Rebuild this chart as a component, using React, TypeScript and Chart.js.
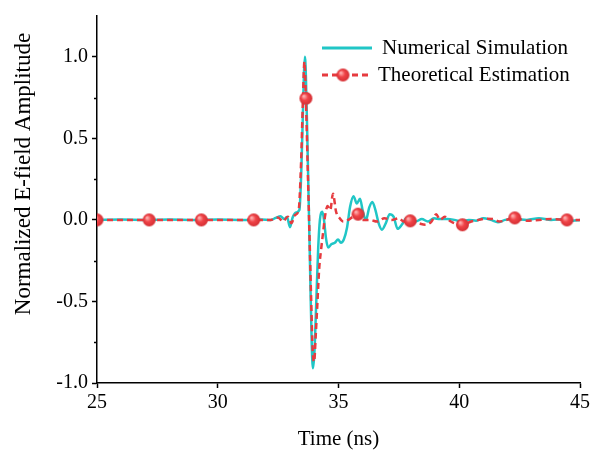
import React, { useEffect, useRef } from 'react';
import { Chart, registerables } from 'chart.js';

Chart.register(...registerables);

// Numerical Simulation (cyan solid)
const simTime = [
  25.0, 26.0, 27.0, 28.0, 29.0, 30.0, 31.0, 31.8, 32.2, 32.4, 32.6, 32.75, 32.87, 32.99,
  33.1, 33.25, 33.38, 33.46, 33.52, 33.57, 33.61, 33.65, 33.71, 33.77, 33.83, 33.89, 33.94,
  34.0, 34.08, 34.16, 34.23, 34.33, 34.4, 34.48, 34.57, 34.7, 34.85, 34.98, 35.1, 35.22,
  35.35, 35.48, 35.62, 35.76, 35.89, 36.01, 36.14, 36.27, 36.4, 36.53, 36.66, 36.8, 36.96,
  37.12, 37.28, 37.45, 37.62, 37.8, 38.0, 38.2, 38.45, 38.7, 38.95, 39.2, 39.5, 39.8, 40.1,
  40.4, 40.7, 41.0, 41.3, 41.6, 41.9, 42.3, 42.8, 43.3, 43.8, 44.3, 44.7, 45.0,
];
const simAmp = [
  0, 0.002, 0, 0.002, 0, 0.002, 0, 0.003, 0, 0.012, 0.022, 0.005, 0.018, -0.045,
  0.015, 0.045, 0.06, 0.3, 0.62, 0.9, 1.0, 0.88, 0.5, 0.08, -0.35, -0.75, -0.91,
  -0.82, -0.5, -0.17, 0.0, 0.05, 0.0, -0.11, -0.17, -0.15, -0.14, -0.12, -0.14, -0.12,
  -0.05, 0.08, 0.145, 0.1, 0.13, 0.05, 0.0, 0.075, 0.11, 0.06, -0.02, -0.06, -0.02,
  0.035, 0.02, -0.055, -0.03, 0.01, 0.015, -0.01, 0.005, -0.01, 0.01, 0.005, 0.005, 0.0, -0.01,
  0.0, -0.005, 0.01, 0.0, -0.015, 0.0, 0.005, 0.0, 0.01, 0.0, 0.005, -0.005, 0.0,
];

// Theoretical Estimation (red dashed with markers)
const estTime = [
  25.0, 26.0, 27.16, 28.2, 29.32, 30.4, 31.49, 32.2, 32.5, 32.7, 32.9, 33.05, 33.2, 33.35,
  33.45, 33.52, 33.59, 33.65, 33.72, 33.8, 33.87, 33.93, 33.99, 34.06, 34.13, 34.2, 34.28,
  34.36, 34.45, 34.55, 34.66, 34.77, 34.9, 35.05, 35.2, 35.4, 35.6, 35.81, 36.0, 36.3, 36.6,
  36.9, 37.2, 37.5, 37.7, 37.97, 38.3, 38.6, 38.85, 39.05, 39.2, 39.4, 39.65, 40.13, 40.5,
  40.8, 41.1, 41.4, 41.65, 42.3, 42.8, 43.3, 43.8, 44.46, 45.0,
];
const estAmp = [
  0, 0, 0, 0, 0, 0, 0, 0, 0.015, -0.01, 0.02, -0.02, 0.03, 0.06,
  0.35, 0.7, 0.97, 0.745, 0.35, -0.1, -0.5, -0.8, -0.87, -0.7, -0.5, -0.3, -0.18,
  -0.08, 0.03, 0.085, 0.06, 0.16, 0.05, 0.01, -0.01, 0.0, 0.02, 0.035, 0.0, 0.0, -0.01,
  0.01, 0.0, 0.01, -0.01, -0.006, -0.02, -0.03, -0.01, 0.035, 0.0, 0.02, -0.01, -0.03, -0.01,
  0.0, 0.007, 0.005, -0.01, 0.012, -0.005, 0.0, 0.005, 0.0, 0.0,
];
const markerTime = [25.0, 27.16, 29.32, 31.49, 33.65, 35.81, 37.97, 40.13, 42.3, 44.46];

const yMajorTicks = [-1.0, -0.5, 0.0, 0.5, 1.0];
const yMinorTicks = [-0.75, -0.25, 0.25, 0.75];

const seriesNames = ['Numerical Simulation', 'Theoretical Estimation'];
const xTitle = 'Time (ns)';
const yTitle = 'Normalized E-field Amplitude';

const CYAN = '#20C6C6';
const RED = '#E63B3F';
const FONT = "'Liberation Serif', 'Times New Roman', serif";

function makeBall(r: number): HTMLCanvasElement {
  const c = document.createElement('canvas');
  const s = r * 2 + 2;
  c.width = s;
  c.height = s;
  const g = c.getContext('2d')!;
  const cx = s / 2;
  const grad = g.createRadialGradient(cx - r * 0.35, cx - r * 0.35, r * 0.1, cx, cx, r);
  grad.addColorStop(0, '#FFB0B0');
  grad.addColorStop(0.45, '#F04448');
  grad.addColorStop(1, '#D42E33');
  g.fillStyle = grad;
  g.beginPath();
  g.arc(cx, cx, r, 0, Math.PI * 2);
  g.fill();
  return c;
}

export default function App() {
  const ref = useRef<HTMLCanvasElement | null>(null);

  useEffect(() => {
    if (!ref.current) return;
    const ball = makeBall(6.5);
    const markerSet = new Set(markerTime.map((t) => t.toFixed(2)));
    const isMarker = (ctx: any) => {
      const t = estTime[ctx.dataIndex];
      return t !== undefined && markerSet.has(t.toFixed(2));
    };

    const extras = {
      id: 'extras',
      afterDraw(chart: any) {
        const ctx = chart.ctx as CanvasRenderingContext2D;
        const y = chart.scales.y;
        const area = chart.chartArea;
        ctx.save();
        // minor y ticks
        ctx.strokeStyle = '#000';
        ctx.lineWidth = 1.5;
        yMinorTicks.forEach((v) => {
          const py = Math.round(y.getPixelForValue(v)) + 0.5;
          ctx.beginPath();
          ctx.moveTo(area.left - 3, py);
          ctx.lineTo(area.left, py);
          ctx.stroke();
        });
        // y title
        ctx.fillStyle = '#000';
        ctx.font = `23px ${FONT}`;
        ctx.textAlign = 'center';
        ctx.textBaseline = 'middle';
        ctx.translate(24, 174);
        ctx.rotate(-Math.PI / 2);
        ctx.fillText(yTitle, 0, 0);
        ctx.restore();

        // legend
        ctx.save();
        ctx.font = `21px ${FONT}`;
        ctx.textBaseline = 'middle';
        ctx.textAlign = 'left';
        ctx.fillStyle = '#000';
        ctx.lineWidth = 3;
        ctx.strokeStyle = CYAN;
        ctx.beginPath();
        ctx.moveTo(322, 48);
        ctx.lineTo(372, 48);
        ctx.stroke();
        ctx.fillText(seriesNames[0], 382, 48);
        ctx.strokeStyle = RED;
        ctx.setLineDash([6, 4]);
        ctx.beginPath();
        ctx.moveTo(322, 75);
        ctx.lineTo(372, 75);
        ctx.stroke();
        ctx.setLineDash([]);
        ctx.drawImage(ball, 343 - ball.width / 2, 75 - ball.height / 2);
        ctx.fillText(seriesNames[1], 378, 75);
        ctx.restore();
      },
    };

    const chart = new Chart(ref.current, {
      type: 'line',
      data: {
        datasets: [
          {
            label: seriesNames[0],
            data: simTime.map((t, i) => ({ x: t, y: simAmp[i] })),
            borderColor: CYAN,
            borderWidth: 2.5,
            pointRadius: 0,
            cubicInterpolationMode: 'monotone',
            order: 2,
          },
          {
            label: seriesNames[1],
            data: estTime.map((t, i) => ({ x: t, y: estAmp[i] })),
            borderColor: RED,
            borderWidth: 2.5,
            borderDash: [6, 4],
            cubicInterpolationMode: 'monotone',
            pointStyle: (ctx: any) => (isMarker(ctx) ? ball : 'circle'),
            pointRadius: (ctx: any) => (isMarker(ctx) ? 6 : 0),
            pointBackgroundColor: RED,
            pointBorderWidth: 0,
            order: 1,
          },
        ],
      },
      options: {
        animation: false,
        responsive: true,
        maintainAspectRatio: false,
        layout: { padding: { top: 14, right: 13, left: 0, bottom: 0 } },
        plugins: {
          legend: { display: false },
          tooltip: { enabled: false },
        },
        scales: {
          x: {
            type: 'linear',
            min: 25,
            max: 45,
            ticks: {
              stepSize: 5,
              color: '#000',
              font: { family: FONT, size: 20 },
              padding: 3,
              maxRotation: 0,
            },
            grid: {
              drawOnChartArea: false,
              drawTicks: true,
              tickLength: 5,
              tickWidth: 1.5,
              tickColor: '#000',
            },
            border: { display: true, color: '#000', width: 1.5 },
            title: {
              display: true,
              text: xTitle,
              color: '#000',
              font: { family: FONT, size: 21 },
              padding: { top: 0, bottom: 2 },
            },
            afterFit: (s: any) => {
              s.height = 71;
            },
          },
          y: {
            type: 'linear',
            min: -1.0,
            max: 1.25,
            afterBuildTicks: (s: any) => {
              s.ticks = yMajorTicks.map((v) => ({ value: v }));
            },
            ticks: {
              color: '#000',
              font: { family: FONT, size: 20 },
              padding: 4,
              callback: (v: any) => Number(v).toFixed(1),
            },
            grid: {
              drawOnChartArea: false,
              drawTicks: true,
              tickLength: 5,
              tickWidth: 1.5,
              tickColor: '#000',
            },
            border: { display: true, color: '#000', width: 1.5 },
            afterFit: (s: any) => {
              s.width = 97;
            },
          },
        },
      },
      plugins: [extras],
    });
    return () => chart.destroy();
  }, []);

  return (
    <div style={{ position: 'absolute', left: 0, top: 0, width: 593, height: 454, background: '#fff' }}>
      <canvas ref={ref} />
    </div>
  );
}
